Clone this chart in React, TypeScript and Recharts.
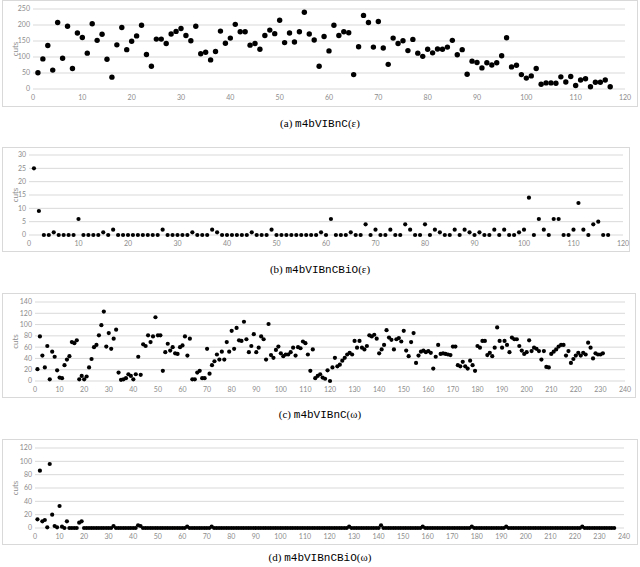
import { ScatterChart, Scatter, XAxis, YAxis, CartesianGrid } from 'recharts'

// (a) m4bVIBnC(ε) — cuts per run
const epsCuts = [
  51, 94, 136, 59, 208, 96, 196, 64, 175, 161, 112, 204, 152, 171, 93, 37, 138, 192, 123, 149,
  166, 199, 108, 71, 156, 156, 142, 172, 180, 189, 167, 151, 196, 110, 115, 91, 117, 181, 143, 159,
  202, 179, 179, 137, 142, 124, 167, 184, 173, 215, 145, 175, 147, 179, 240, 172, 153, 71, 164, 119,
  199, 167, 179, 176, 45, 132, 230, 208, 131, 211, 128, 77, 159, 142, 151, 120, 155, 112, 102, 124,
  113, 125, 124, 131, 152, 107, 123, 46, 87, 83, 66, 82, 75, 82, 104, 160, 69, 74, 45, 34,
  41, 64, 15, 19, 19, 18, 38, 22, 39, 11, 28, 32, 7, 21, 21, 28, 7,
]

// (b) m4bVIBnCBiO(ε)
const epsBiOCuts = [
  25, 9, 0, 0, 1, 0, 0, 0, 0, 6, 0, 0, 0, 0, 1, 0, 2, 0, 0, 0,
  0, 0, 0, 0, 0, 0, 2, 0, 0, 0, 0, 0, 1, 0, 0, 0, 2, 1, 0, 0,
  0, 0, 0, 0, 1, 0, 0, 0, 2, 0, 0, 0, 0, 0, 0, 0, 0, 0, 1, 0,
  6, 0, 0, 0, 1, 0, 0, 4, 0, 2, 0, 0, 2, 0, 0, 4, 2, 0, 0, 4,
  0, 2, 1, 0, 0, 2, 0, 2, 1, 0, 1, 0, 0, 2, 0, 2, 0, 0, 1, 2,
  14, 0, 6, 2, 0, 6, 6, 0, 0, 2, 12, 2, 0, 4, 5, 0, 0,
]

// (c) m4bVIBnC(ω)
const omegaCuts = [
  21, 79, 45, 24, 62, 3, 52, 43, 19, 6, 5, 28, 38, 44, 69, 67, 72, 3, 9, 3,
  8, 24, 39, 60, 64, 81, 99, 123, 61, 85, 57, 75, 91, 15, 2, 3, 5, 12, 9, 3,
  12, 43, 11, 65, 62, 81, 69, 79, 113, 81, 81, 18, 51, 66, 54, 60, 49, 48, 60, 63,
  79, 45, 75, 3, 3, 15, 18, 5, 5, 57, 13, 28, 35, 47, 38, 52, 38, 69, 52, 89,
  57, 94, 72, 71, 105, 74, 51, 62, 83, 51, 59, 79, 74, 38, 101, 46, 41, 55, 61, 49,
  44, 47, 47, 51, 59, 45, 60, 58, 70, 67, 47, 18, 56, 5, 9, 12, 6, 4, 19, 0,
  24, 41, 26, 29, 36, 41, 47, 50, 47, 71, 59, 71, 59, 56, 62, 81, 79, 82, 75, 49,
  56, 64, 90, 77, 73, 56, 74, 76, 70, 89, 54, 44, 69, 85, 32, 45, 52, 54, 51, 53,
  50, 22, 43, 64, 48, 49, 48, 47, 46, 61, 61, 28, 26, 34, 26, 22, 36, 28, 18, 62,
  59, 71, 71, 46, 50, 44, 59, 95, 71, 59, 71, 64, 51, 77, 74, 74, 62, 54, 48, 51,
  72, 53, 59, 57, 53, 38, 53, 25, 24, 48, 52, 56, 61, 64, 64, 45, 53, 32, 39, 45,
  50, 45, 50, 47, 68, 59, 40, 49, 47, 47, 49,
]

// (d) m4bVIBnCBiO(ω)
const omegaBiOCuts = [
  13, 86, 10, 12, 1, 96, 20, 3, 1, 33, 2, 0, 10, 0, 0, 0, 0, 8, 10, 0,
  0, 0, 0, 0, 0, 0, 0, 0, 0, 0, 0, 3, 0, 0, 0, 0, 0, 0, 0, 0,
  0, 4, 3, 0, 0, 0, 0, 0, 0, 0, 0, 0, 0, 0, 0, 0, 0, 0, 0, 0,
  0, 2, 0, 0, 0, 0, 0, 0, 0, 0, 0, 2, 0, 0, 0, 0, 0, 0, 0, 0,
  0, 0, 0, 0, 0, 0, 0, 0, 0, 0, 0, 0, 0, 0, 0, 0, 0, 0, 0, 0,
  0, 0, 0, 0, 0, 0, 0, 0, 0, 0, 0, 0, 0, 0, 0, 0, 0, 0, 0, 0,
  0, 0, 0, 0, 0, 0, 0, 2, 0, 0, 0, 0, 0, 0, 0, 0, 0, 0, 0, 0,
  4, 0, 0, 0, 0, 0, 0, 0, 0, 0, 0, 0, 0, 0, 0, 0, 0, 2, 0, 0,
  0, 0, 0, 0, 0, 0, 0, 0, 0, 0, 0, 0, 0, 0, 0, 0, 0, 2, 0, 0,
  0, 0, 0, 0, 0, 0, 0, 0, 0, 0, 0, 2, 0, 0, 0, 0, 0, 0, 0, 0,
  0, 0, 0, 0, 0, 0, 0, 0, 0, 0, 0, 0, 0, 0, 0, 0, 0, 0, 0, 0,
  0, 0, 2, 0, 0, 0, 0, 0, 0, 0, 0, 0, 0, 0, 0, 0,
]

const xTicks120 = [0, 10, 20, 30, 40, 50, 60, 70, 80, 90, 100, 110, 120]
const xTicks240 = [
  0, 10, 20, 30, 40, 50, 60, 70, 80, 90, 100, 110, 120, 130, 140, 150, 160, 170, 180, 190, 200,
  210, 220, 230, 240,
]
const yTicksA = [0, 50, 100, 150, 200, 250]
const yTicksB = [0, 5, 10, 15, 20, 25, 30]
const yTicksC = [0, 20, 40, 60, 80, 100, 120, 140]
const yTicksD = [0, 20, 40, 60, 80, 100, 120]

const GRID = '#d9d9d9'
const TICK = { fontSize: 7, fill: '#8c8c8c', fontFamily: 'Lato, "Liberation Sans", sans-serif' }

const toPoints = (vals: number[]) => vals.map((v, i) => ({ run: i + 1, cuts: v }))

type Box = { left: number; top: number; width: number; height: number }
type Plot = { left: number; right: number; top: number; bottom: number }

function Panel(props: {
  box: Box
  plot: Plot
  values: number[]
  xTicks: number[]
  yTicks: number[]
  r: number
  tag: string
  name: string
  sym: string
  captionY: number
}) {
  const { box, plot, values, xTicks, yTicks, r, tag, name, sym, captionY } = props
  const data = toPoints(values)
  const xMax = xTicks[xTicks.length - 1]
  const yMax = yTicks[yTicks.length - 1]

  return (
    <>
      <div
        style={{
          position: 'absolute',
          left: box.left,
          top: box.top,
          width: box.width,
          height: box.height,
          border: `1px solid ${GRID}`,
          boxSizing: 'border-box',
        }}
      />
      <div style={{ position: 'absolute', left: box.left, top: box.top }}>
        <ScatterChart
          width={box.width}
          height={box.height}
          margin={{ top: plot.top - box.top, right: box.left + box.width - plot.right, bottom: 0, left: 0 }}
        >
          <CartesianGrid vertical={false} stroke={GRID} />
          <XAxis
            type="number"
            dataKey="run"
            domain={[0, xMax]}
            ticks={xTicks}
            interval={0}
            height={box.top + box.height - plot.bottom}
            axisLine={false}
            tickLine={false}
            tickSize={0}
            tickMargin={6}
            tick={TICK}
          />
          <YAxis
            type="number"
            dataKey="cuts"
            domain={[0, yMax]}
            ticks={yTicks}
            interval={0}
            width={plot.left - box.left}
            axisLine={false}
            tickLine={false}
            tickSize={0}
            tickMargin={3}
            tick={TICK}
            label={{
              value: 'cuts',
              angle: -90,
              position: 'insideLeft',
              offset: 13,
              textAnchor: 'middle',
              style: { fontSize: 8, fill: '#8c8c8c', fontFamily: 'Lato, sans-serif' },
            }}
          />
          <Scatter
            data={data}
            fill="#000"
            isAnimationActive={false}
            shape={(p: any) => <circle cx={p.cx} cy={p.cy} r={r} fill="#000" />}
          />
        </ScatterChart>
      </div>
      <div
        style={{
          position: 'absolute',
          left: 0,
          width: 640,
          top: captionY - 7,
          lineHeight: '14px',
          textAlign: 'center',
          fontSize: 11,
          color: '#000',
          fontFamily: '"Liberation Serif", serif',
        }}
      >
        ({tag}) <span style={{ fontFamily: '"Liberation Mono", monospace' }}>{name}</span>({sym})
      </div>
    </>
  )
}

export default function App() {
  return (
    <div style={{ position: 'absolute', left: 0, top: 0, width: 640, height: 567, background: '#fff' }}>
      <Panel
        box={{ left: 2, top: 0, width: 636, height: 107 }}
        plot={{ left: 33, right: 625, top: 9, bottom: 89 }}
        values={epsCuts}
        xTicks={xTicks120}
        yTicks={yTicksA}
        r={2.7}
        tag="a"
        name="m4bVIBnC"
        sym="ε"
        captionY={123}
      />
      <Panel
        box={{ left: 2, top: 147, width: 628, height: 105 }}
        plot={{ left: 29, right: 623, top: 155, bottom: 235 }}
        values={epsBiOCuts}
        xTicks={xTicks120}
        yTicks={yTicksB}
        r={2.1}
        tag="b"
        name="m4bVIBnCBiO"
        sym="ε"
        captionY={269}
      />
      <Panel
        box={{ left: 2, top: 293, width: 634, height: 105 }}
        plot={{ left: 35, right: 625, top: 302, bottom: 381 }}
        values={omegaCuts}
        xTicks={xTicks240}
        yTicks={yTicksC}
        r={2.1}
        tag="c"
        name="m4bVIBnC"
        sym="ω"
        captionY={414}
      />
      <Panel
        box={{ left: 2, top: 439, width: 636, height: 106 }}
        plot={{ left: 35, right: 624, top: 448, bottom: 528 }}
        values={omegaBiOCuts}
        xTicks={xTicks240}
        yTicks={yTicksD}
        r={2.1}
        tag="d"
        name="m4bVIBnCBiO"
        sym="ω"
        captionY={557}
      />
    </div>
  )
}
